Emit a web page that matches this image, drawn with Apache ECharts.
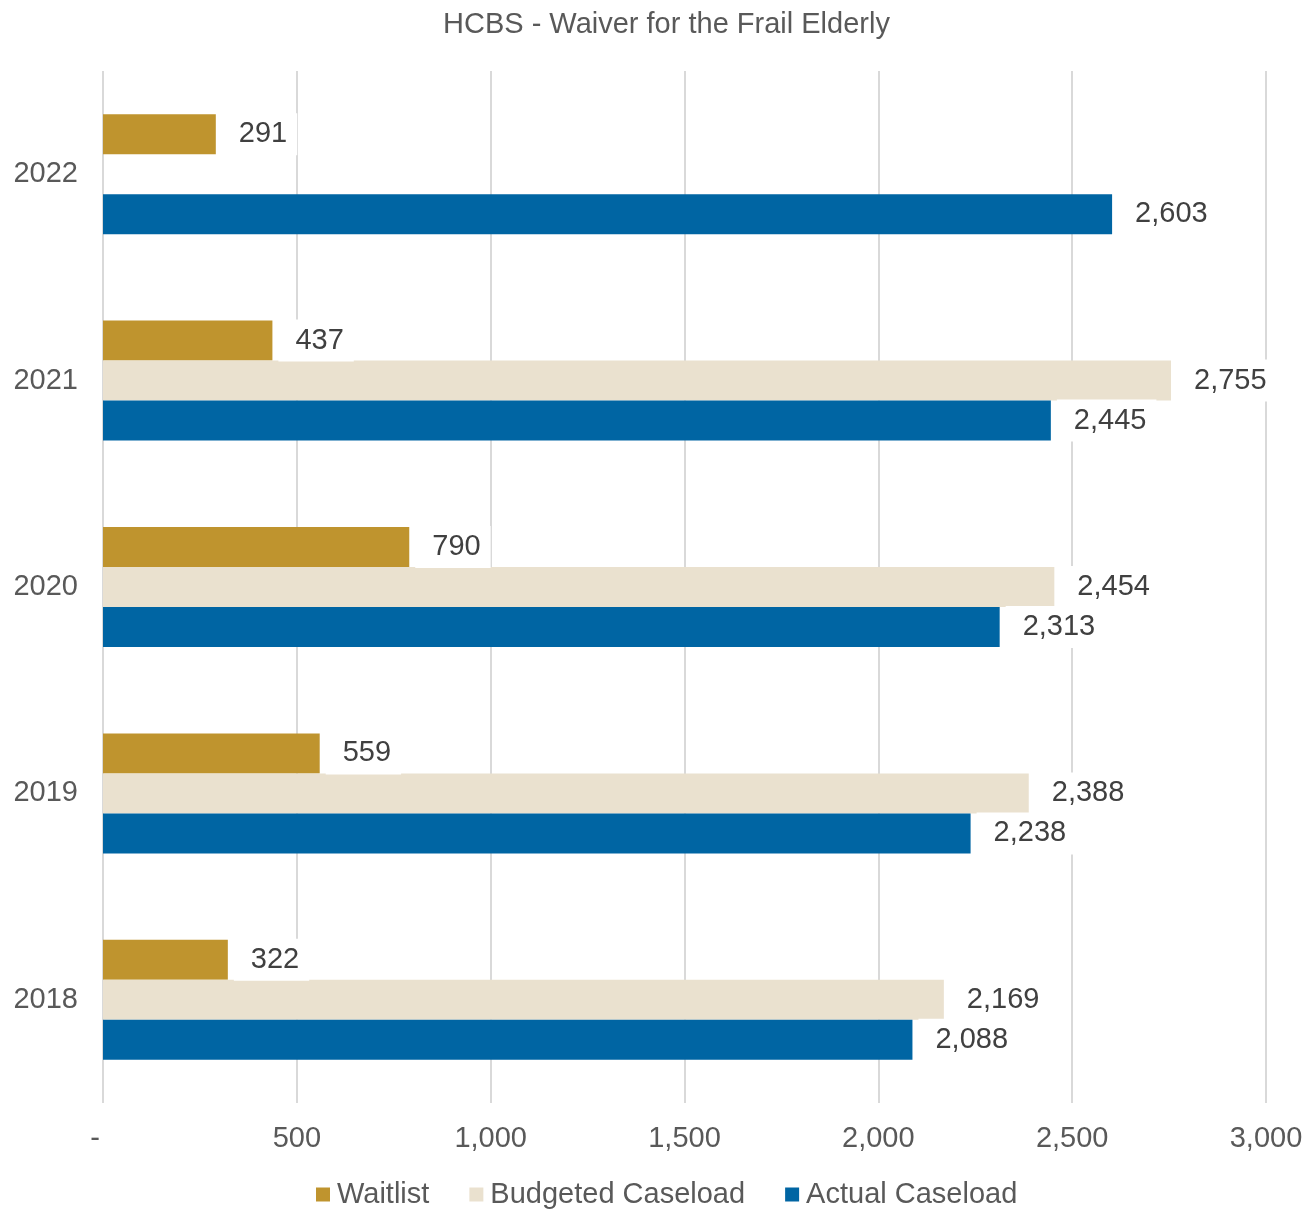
<!DOCTYPE html>
<html>
<head>
<meta charset="utf-8">
<title>HCBS - Waiver for the Frail Elderly</title>
<script src="https://cdn.jsdelivr.net/npm/echarts@6/dist/echarts.min.js"></script>
<style>
  html, body { margin: 0; padding: 0; background: #ffffff; }
  #chart { width: 1311px; height: 1214px; }
</style>
</head>
<body>
<div id="chart"></div>
<script>
// Fiscal years, bottom to top
const years = ['2018', '2019', '2020', '2021', '2022'];
const waitlist = [322, 559, 790, 437, 291];
const budgeted = [2169, 2388, 2454, 2755, null];
const actual = [2088, 2238, 2313, 2445, 2603];
const seriesNames = ['Waitlist', 'Budgeted Caseload', 'Actual Caseload'];
const seriesColors = ['#BF942E', '#EAE1CF', '#0065A3'];

const fmt = v => (v === 0 ? '-' : v.toLocaleString('en-US'));

const labelStyle = {
  show: true,
  position: 'right',
  distance: 6,
  color: '#404040',
  fontSize: 29,
  fontFamily: 'Liberation Sans, Arial, sans-serif',
  backgroundColor: '#ffffff',
  padding: [8, 10, 5, 17],
  formatter: p => (p.value == null ? '' : fmt(p.value))
};

function barSeries(name, data, color) {
  return {
    name: name,
    type: 'bar',
    data: data,
    barWidth: 40,
    barGap: '0%',
    itemStyle: { color: color },
    label: labelStyle
  };
}

const chart = echarts.init(document.getElementById('chart'), null, { renderer: 'canvas' });
chart.setOption({
  animation: false,
  backgroundColor: '#ffffff',
  textStyle: { fontFamily: 'Liberation Sans, Arial, sans-serif' },
  title: {
    text: 'HCBS - Waiver for the Frail Elderly',
    left: 438,
    top: 5,
    textStyle: { color: '#595959', fontSize: 29, fontWeight: 'normal' }
  },
  legend: {
    data: seriesNames,
    bottom: 0,
    left: 311,
    itemWidth: 14,
    itemHeight: 14,
    itemGap: 40,
    icon: 'rect',
    textStyle: { color: '#595959', fontSize: 29, padding: [0, 0, 0, 2] }
  },
  grid: { left: 103, right: 45, top: 71, bottom: 111, containLabel: false },
  xAxis: {
    type: 'value',
    min: 0,
    max: 3000,
    interval: 500,
    axisLine: { show: false },
    axisTick: { show: false },
    splitLine: { show: true, lineStyle: { color: '#D9D9D9', width: 2 } },
    axisLabel: {
      color: '#595959',
      fontSize: 29,
      margin: 21,
      formatter: v => (v === 0 ? '{dash|-}' : fmt(v)),
      rich: { dash: { color: '#595959', fontSize: 29, padding: [0, 16, 0, 0] } }
    }
  },
  yAxis: {
    type: 'category',
    data: years,
    axisLine: { show: false },
    axisTick: { show: false },
    axisLabel: { color: '#595959', fontSize: 29, margin: 25 }
  },
  // series order sets the stacking within each year: Waitlist on top, Actual at the bottom
  series: [
    barSeries(seriesNames[0], waitlist, seriesColors[0]),
    barSeries(seriesNames[1], budgeted, seriesColors[1]),
    barSeries(seriesNames[2], actual, seriesColors[2])
  ]
});
</script>
</body>
</html>
